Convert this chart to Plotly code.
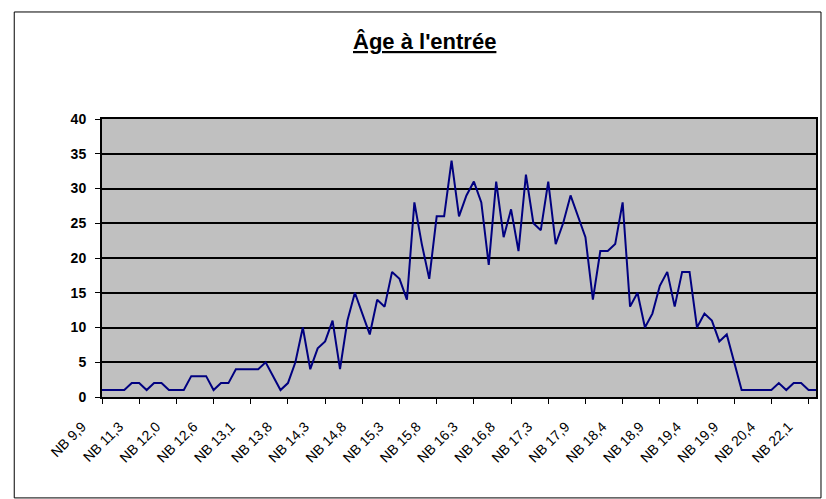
import plotly.graph_objects as go

# Number of entrants per age category (97 categories, in order)
counts = [
    1, 1, 1, 1, 2, 2, 1, 2, 2, 1,
    1, 1, 3, 3, 3, 1, 2, 2, 4, 4,
    4, 4, 5, 3, 1, 2, 5, 10, 4, 7,
    8, 11, 4, 11, 15, 12, 9, 14, 13, 18,
    17, 14, 28, 22, 17, 26, 26, 34, 26, 29,
    31, 28, 19, 31, 23, 27, 21, 32, 25, 24,
    31, 22, 25, 29, 26, 23, 14, 21, 21, 22,
    28, 13, 15, 10, 12, 16, 18, 13, 18, 18,
    10, 12, 11, 8, 9, 5, 1, 1, 1, 1,
    1, 2, 1, 2, 2, 1, 1,
]

# Labels shown on the category axis (every 5th category)
tick_labels = [
    "NB 9,9", "NB 11,3", "NB 12,0", "NB 12,6", "NB 13,1",
    "NB 13,8", "NB 14,3", "NB 14,8", "NB 15,3", "NB 15,8",
    "NB 16,3", "NB 16,8", "NB 17,3", "NB 17,9", "NB 18,4",
    "NB 18,9", "NB 19,4", "NB 19,9", "NB 20,4", "NB 22,1",
]
tick_positions = list(range(0, 5 * len(tick_labels), 5))
y_ticks = [0, 5, 10, 15, 20, 25, 30, 35, 40]

FONT = "Arial, Liberation Sans, sans-serif"

fig = go.Figure()
fig.add_trace(go.Scatter(
    x=list(range(len(counts))),
    y=counts,
    mode="lines",
    line=dict(color="#000080", width=2),
    hoverinfo="y",
    showlegend=False,
))

fig.update_layout(
    width=826,
    height=499,
    autosize=False,
    margin=dict(l=102, r=8, t=119, b=102),
    paper_bgcolor="white",
    plot_bgcolor="#C0C0C0",
    font=dict(family=FONT, color="black"),
    xaxis=dict(
        range=[0, len(counts) - 1],
        tickvals=tick_positions,
        ticktext=tick_labels,
        tickangle=-45,
        tickfont=dict(size=14, family=FONT),
        ticklabelstandoff=9,
        ticklabelshift=-20,
        ticks="outside",
        ticklen=5,
        tickcolor="black",
        showgrid=False,
        zeroline=False,
        showline=True,
        linecolor="black",
        linewidth=2,
        mirror=True,
    ),
    yaxis=dict(
        range=[0, 40],
        tickvals=y_ticks,
        ticktext=[f"<b>{v}</b>" for v in y_ticks],
        tickfont=dict(size=14, family=FONT),
        ticklabelstandoff=6,
        ticks="outside",
        ticklen=5,
        tickcolor="black",
        showgrid=True,
        gridcolor="black",
        gridwidth=1.5,
        zeroline=False,
        showline=True,
        linecolor="black",
        linewidth=2,
        mirror=True,
    ),
)

# Title, bold and underlined
fig.add_annotation(
    text="<b><u>Âge à l'entrée</u></b>",
    xref="paper", yref="paper",
    x=0.451, y=1.277,
    xanchor="center", yanchor="middle",
    showarrow=False,
    font=dict(size=22, family=FONT, color="black"),
)

# Outer chart border
fig.add_shape(
    type="rect",
    xref="paper", yref="paper",
    x0=-0.1229, x1=1.007, y0=-0.363, y1=1.385,
    line=dict(color="black", width=1),
    fillcolor="rgba(0,0,0,0)",
    layer="below",
)

fig.write_html(
    "out.html",
    config={"displayModeBar": False},
    post_script="document.body.style.margin='0';",
)
